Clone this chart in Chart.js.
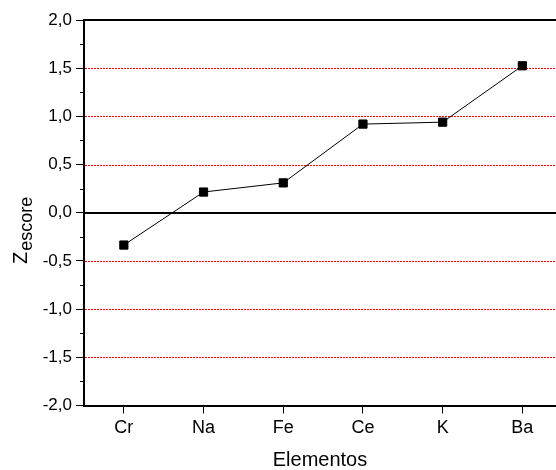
<!DOCTYPE html>
<html>
<head>
<meta charset="utf-8">
<script src="https://cdn.jsdelivr.net/npm/chart.js@4.4.0/dist/chart.umd.min.js"></script>
<style>
  html, body { margin:0; padding:0; background:#fff; }
</style>
</head>
<body>
<canvas id="zChart" width="556" height="470"></canvas>
<script>
const elementos = ['Cr', 'Na', 'Fe', 'Ce', 'K', 'Ba'];
const zescore   = [-0.335, 0.215, 0.31, 0.92, 0.94, 1.525];
const yMinor    = [-1.75, -1.25, -0.75, -0.25, 0.25, 0.75, 1.25, 1.75];
const redLines  = [-1.5, -1, -0.5, 0.5, 1, 1.5];

const FONT = "'Liberation Sans', Arial, sans-serif";
const fmt = v => v.toFixed(1).replace('.', ',');

// dotted red reference lines, zero line, frame, minor ticks and the y title
const decor = {
  id: 'decor',
  beforeDatasetsDraw(chart) {
    const { ctx, chartArea: a, scales: { y } } = chart;
    ctx.save();
    ctx.strokeStyle = '#ff0000';
    ctx.lineWidth = 1;
    ctx.setLineDash([2, 1]);
    redLines.forEach(v => {
      const py = Math.round(y.getPixelForValue(v)) + 0.5;
      ctx.beginPath(); ctx.moveTo(a.left + 1, py); ctx.lineTo(a.right, py); ctx.stroke();
    });
    ctx.setLineDash([]);
    ctx.strokeStyle = '#000';
    ctx.lineWidth = 2;
    const z = Math.round(y.getPixelForValue(0));
    ctx.beginPath(); ctx.moveTo(a.left, z); ctx.lineTo(a.right, z); ctx.stroke();
    ctx.beginPath(); ctx.moveTo(a.left, a.top); ctx.lineTo(a.right, a.top); ctx.stroke();
    ctx.beginPath(); ctx.moveTo(a.left, a.top - 1); ctx.lineTo(a.left, a.bottom + 1); ctx.stroke();
    ctx.lineWidth = 1;
    yMinor.forEach(v => {
      const py = Math.round(y.getPixelForValue(v)) + 0.5;
      ctx.beginPath(); ctx.moveTo(a.left - 4, py); ctx.lineTo(a.left, py); ctx.stroke();
    });
    ctx.restore();
  },
  afterDraw(chart) {
    const { ctx } = chart;
    ctx.save();
    ctx.translate(27, 264);
    ctx.rotate(-Math.PI / 2);
    ctx.fillStyle = '#000';
    ctx.textBaseline = 'alphabetic';
    ctx.font = `20px ${FONT}`;
    ctx.fillText('Z', 0, 0);
    const w = ctx.measureText('Z').width;
    ctx.font = `18px ${FONT}`;
    ctx.fillText('escore', w + 1, 5);
    ctx.restore();
  }
};

new Chart(document.getElementById('zChart'), {
  type: 'line',
  data: {
    datasets: [{
      label: 'Zescore',
      data: zescore.map((v, i) => ({ x: i + 1, y: v })),
      borderColor: '#000',
      borderWidth: 1,
      pointStyle: 'rect',
      pointRadius: 5.8,
      pointBackgroundColor: '#000',
      pointBorderColor: '#000',
      pointBorderWidth: 1,
      tension: 0,
      fill: false,
    }]
  },
  options: {
    responsive: false,
    animation: false,
    devicePixelRatio: 1,
    layout: { autoPadding: false, padding: { top: 20, left: 0, right: 0, bottom: 0 } },
    plugins: { legend: { display: false }, tooltip: { enabled: false } },
    scales: {
      x: {
        type: 'linear', min: 0.5, max: 6.422,
        afterBuildTicks: s => { s.ticks = elementos.map((_, i) => ({ value: i + 1 })); },
        afterFit: s => { s.height = 64.5; },
        ticks: { callback: v => elementos[Math.round(v) - 1], color: '#000', font: { family: FONT, size: 18 }, padding: 4, autoSkip: false, maxRotation: 0 },
        grid: { drawOnChartArea: false, tickLength: 8, color: '#000', lineWidth: 1 },
        border: { display: true, color: '#000', width: 2 },
        title: { display: true, text: 'Elementos', color: '#000', font: { family: FONT, size: 20, lineHeight: 1 }, padding: { top: 0, bottom: 0 } }
      },
      y: {
        min: -2, max: 2,
        afterFit: s => { s.width = 84; },
        ticks: { stepSize: 0.5, callback: v => fmt(v), color: '#000', font: { family: FONT, size: 17 }, padding: 4 },
        grid: { drawOnChartArea: false, tickLength: 8, color: '#000', lineWidth: 1 },
        border: { display: false }
      }
    }
  },
  plugins: [decor]
});
</script>
</body>
</html>
